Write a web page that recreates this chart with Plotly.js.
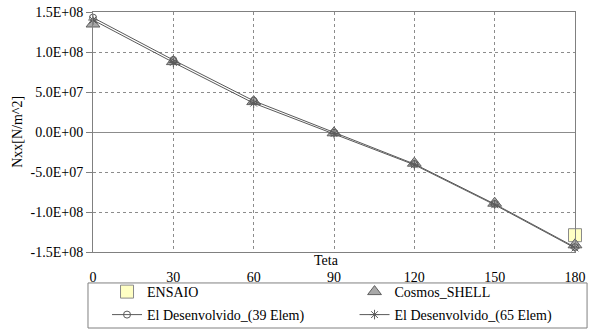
<!DOCTYPE html>
<html>
<head>
<meta charset="utf-8">
<script src="https://cdn.plot.ly/plotly-3.0.1.min.js"></script>
<style>
  html, body { margin: 0; padding: 0; background: #ffffff; }
  #chart { width: 589px; height: 331px; }
</style>
</head>
<body>
<div id="chart"></div>
<script>
// Angle positions (degrees)
const teta = [0, 30, 60, 90, 120, 150, 180];

// Experimental value (only at 180 degrees)
const ensaioTeta = [180];
const ensaio = [-1.29e8];

// Cosmos shell model
const cosmosShell = [1.35e8, 0.88e8, 0.38e8, -0.01e8, -0.39e8, -0.89e8, -1.41e8];

// Developed element model, 39 and 65 elements
const el39 = [1.43e8, 0.90e8, 0.39e8, -0.01e8, -0.40e8, -0.90e8, -1.44e8];
const el65 = [1.40e8, 0.87e8, 0.36e8, -0.02e8, -0.41e8, -0.91e8, -1.45e8];

// Axis tick labels
const xTicks = [0, 30, 60, 90, 120, 150, 180];
const yTicks = [1.5e8, 1.0e8, 5.0e7, 0, -5.0e7, -1.0e8, -1.5e8];
const yTickText = ['1.5E+08', '1.0E+08', '5.0E+07', '0.0E+00', '-5.0E+07', '-1.0E+08', '-1.5E+08'];

const lineGray = '#5a5a5a';
const txt = { family: 'Liberation Serif', size: 14, color: '#000000' };

const traces = [
  {
    name: 'ENSAIO', x: ensaioTeta, y: ensaio, type: 'scatter', mode: 'markers',
    cliponaxis: false, legend: 'legend',
    marker: { symbol: 'square', size: 13, color: '#ffffc4', line: { color: '#8a8a8a', width: 1 } }
  },
  {
    name: 'Cosmos_SHELL', x: teta, y: cosmosShell, type: 'scatter', mode: 'markers',
    cliponaxis: false, legend: 'legend2',
    marker: { symbol: 'triangle-up', size: 12, color: '#a8a8a8', line: { color: '#606060', width: 1 } }
  },
  {
    name: 'El Desenvolvido_(39 Elem)', x: teta, y: el39, type: 'scatter', mode: 'lines+markers',
    cliponaxis: false, legend: 'legend3',
    line: { color: lineGray, width: 1 },
    marker: { symbol: 'circle-open', size: 7, color: lineGray, line: { width: 1 } }
  },
  {
    name: 'El Desenvolvido_(65 Elem)', x: teta, y: el65, type: 'scatter', mode: 'lines+markers',
    cliponaxis: false, legend: 'legend4',
    line: { color: lineGray, width: 1 },
    marker: { symbol: 'asterisk-open', size: 8, color: lineGray, line: { width: 1, color: lineGray } }
  }
];

// One legend per entry so each sits in its own cell of the framed box
function legendAt(x, y) {
  return {
    x: x, y: y, xanchor: 'left', yanchor: 'middle', orientation: 'v',
    bgcolor: 'rgba(0,0,0,0)', borderwidth: 0, font: txt,
    itemclick: false, itemdoubleclick: false
  };
}

const layout = {
  width: 589, height: 331,
  margin: { l: 93, r: 14, t: 12, b: 79, autoexpand: false },
  paper_bgcolor: '#ffffff', plot_bgcolor: '#ffffff',
  font: txt,
  showlegend: true,
  legend: legendAt(0.0291, -0.1667),
  legend2: legendAt(0.5426, -0.1667),
  legend3: legendAt(0.0291, -0.2625),
  legend4: legendAt(0.5426, -0.2625),
  xaxis: {
    range: [0, 180], tickvals: xTicks, ticktext: xTicks.map(String),
    showgrid: true, gridcolor: '#8c8c8c', griddash: 'dot', gridwidth: 1,
    showline: true, linecolor: '#808080', linewidth: 1, mirror: true,
    zeroline: false, ticks: '', ticklabelstandoff: 12,
    tickfont: txt
  },
  yaxis: {
    range: [-1.5e8, 1.5e8], tickvals: yTicks, ticktext: yTickText,
    showgrid: true, gridcolor: '#8c8c8c', griddash: 'dot', gridwidth: 1,
    showline: true, linecolor: '#808080', linewidth: 1, mirror: true,
    zeroline: true, zerolinecolor: '#8c8c8c', zerolinewidth: 1,
    ticks: 'outside', ticklen: 6, tickcolor: '#808080',
    tickfont: txt
  },
  annotations: [
    {
      text: 'Teta', xref: 'paper', yref: 'paper', x: 0.484, y: -0.034,
      xanchor: 'center', yanchor: 'middle', showarrow: false, font: txt
    },
    {
      text: 'Nxx[N/m^2]', xref: 'paper', yref: 'paper', x: -0.158, y: 0.5,
      xanchor: 'center', yanchor: 'middle', textangle: -90, showarrow: false, font: txt
    }
  ],
  shapes: [
    {
      type: 'rect', xref: 'paper', yref: 'paper',
      x0: -0.0104, x1: 1.025, y0: -0.3167, y1: -0.129,
      line: { color: '#808080', width: 1 }, fillcolor: 'rgba(0,0,0,0)', layer: 'below'
    }
  ]
};

Plotly.newPlot('chart', traces, layout, { displayModeBar: false, staticPlot: true });
</script>
</body>
</html>
